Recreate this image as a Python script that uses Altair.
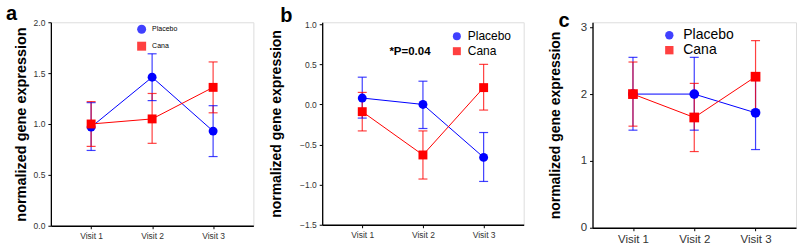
import altair as alt
import pandas as pd

visits = ["Visit 1", "Visit 2", "Visit 3"]
groups = ["Placebo", "Cana"]
colors = ["#0000FF", "#FF0000"]
shapes = ["circle", "square"]

# panel a
a_placebo = [0.97, 1.46, 0.93]
a_placebo_lo = [0.74, 1.23, 0.68]
a_placebo_hi = [1.21, 1.69, 1.18]
a_cana = [1.00, 1.05, 1.36]
a_cana_lo = [0.78, 0.81, 1.11]
a_cana_hi = [1.22, 1.30, 1.61]

# panel b
b_placebo = [0.08, 0.00, -0.66]
b_placebo_lo = [-0.17, -0.30, -0.96]
b_placebo_hi = [0.34, 0.29, -0.35]
b_cana = [-0.09, -0.63, 0.21]
b_cana_lo = [-0.33, -0.93, -0.07]
b_cana_hi = [0.15, -0.33, 0.50]

# panel c
c_placebo = [2.00, 2.00, 1.72]
c_placebo_lo = [1.46, 1.46, 1.17]
c_placebo_hi = [2.55, 2.55, 2.27]
c_cana = [2.00, 1.65, 2.26]
c_cana_lo = [1.52, 1.14, 1.72]
c_cana_hi = [2.48, 2.16, 2.80]


def frame(p, plo, phi, c, clo, chi):
    rows = []
    for g, m, lo, hi in [("Placebo", p, plo, phi), ("Cana", c, clo, chi)]:
        for v, mm, l, h in zip(visits, m, lo, hi):
            rows.append({"visit": v, "group": g, "mean": mm, "lo": l, "hi": h})
    return pd.DataFrame(rows)


def panel(df, letter, w, h, ydomain, yticks, yfmt, tickfs, titlefs, titlepad,
          legfs, legx, legy, legsym, legrow, legoff, ptsize,
          title_dx, title_dy, extra=None):
    xenc = alt.X("visit:N", sort=visits, title=None,
                 scale=alt.Scale(type="point", padding=0.66),
                 axis=alt.Axis(labelAngle=0, labelFontSize=tickfs, labelColor="#333",
                               labelFont="Liberation Sans", domainColor="black",
                               domainWidth=1.3, tickColor="black", tickSize=3,
                               labelPadding=3))
    yscale = alt.Scale(domain=ydomain, nice=False, zero=False)
    yaxis = alt.Axis(values=yticks, format=yfmt, title="normalized gene expression",
                     titleFontSize=titlefs, titleFontWeight="bold", titleFont="Liberation Sans",
                     titleColor="black", labelFontSize=tickfs, labelColor="#333",
                     labelFont="Liberation Sans", domainColor="black", domainWidth=1.3,
                     tickColor="black", tickSize=3, labelPadding=3, grid=False,
                     titlePadding=titlepad)
    color = alt.Color("group:N", scale=alt.Scale(domain=groups, range=colors),
                      legend=alt.Legend(title=None, orient="none", legendX=legx, legendY=legy,
                                        labelFontSize=legfs, labelFont="Liberation Sans",
                                        labelColor="black", symbolSize=legsym, padding=0,
                                        symbolStrokeWidth=0, rowPadding=legrow,
                                        labelOffset=legoff))
    shape = alt.Shape("group:N", scale=alt.Scale(domain=groups, range=shapes))
    base = alt.Chart(df)
    line = base.mark_line(strokeWidth=1).encode(x=xenc, y=alt.Y("mean:Q", scale=yscale, axis=yaxis),
                                                color=color)
    rule = base.mark_rule(strokeWidth=1.2, opacity=0.75).encode(
        x=xenc, y=alt.Y("lo:Q", scale=yscale), y2="hi:Q", color=color)
    tlo = base.mark_tick(size=9, thickness=1.2, opacity=0.75).encode(
        x=xenc, y=alt.Y("lo:Q", scale=yscale), color=color)
    thi = base.mark_tick(size=9, thickness=1.2, opacity=0.75).encode(
        x=xenc, y=alt.Y("hi:Q", scale=yscale), color=color)
    pts = base.mark_point(filled=True, size=ptsize, opacity=1).encode(
        x=xenc, y=alt.Y("mean:Q", scale=yscale), color=color, shape=shape)
    layers = [line, rule, tlo, thi, pts]
    if extra is not None:
        layers.append(extra)
    return alt.layer(*layers).properties(
        width=w, height=h,
        title=alt.TitleParams(letter, fontSize=20, fontWeight="bold", font="Liberation Sans",
                              anchor="start", frame="group", dx=title_dx, dy=title_dy,
                              color="black"))


dfa = frame(a_placebo, a_placebo_lo, a_placebo_hi, a_cana, a_cana_lo, a_cana_hi)
dfb = frame(b_placebo, b_placebo_lo, b_placebo_hi, b_cana, b_cana_lo, b_cana_hi)
dfc = frame(c_placebo, c_placebo_lo, c_placebo_hi, c_cana, c_cana_lo, c_cana_hi)

annot = alt.Chart(pd.DataFrame({"t": ["*P=0.04"]})).mark_text(
    fontSize=11.5, fontWeight="bold", font="Liberation Sans", color="black", dx=-13,
    baseline="middle"
).encode(x=alt.datum("Visit 2"), y=alt.datum(0.65), text="t:N")

pa = panel(dfa, "a", 203, 204, [0, 2], [0, 0.5, 1.0, 1.5, 2.0], ".1f", 8.5, 14.5, 5,
           7, 86.5, 2.5, 81, 8, 6, 80, -45, 10)
pb = panel(dfb, "b", 202, 203, [-1.5, 1.025], [-1.5, -1.0, -0.5, 0.0, 0.5, 1.0], ".1f", 8.5, 14, 16,
           12, 129, 8, 64, 3, 5, 80, -42, 10, annot)
pc = panel(dfc, "c", 204, 206, [0, 3.075], [0, 1, 2, 3], "d", 11.5, 14, 18,
           14, 70, 6, 70, 1, 7, 95, -34, 14)

chart = alt.hconcat(pa, pb, pc, spacing=69, bounds="flush").resolve_scale(
    color="independent", shape="independent", y="independent", x="independent"
).resolve_legend(color="independent", shape="independent").configure_view(
    strokeWidth=0).configure(background="white").properties(
    padding={"left": 5, "top": 3, "right": 0, "bottom": 0})

chart.save("out.html", embed_options={"renderer": "svg", "actions": False})
